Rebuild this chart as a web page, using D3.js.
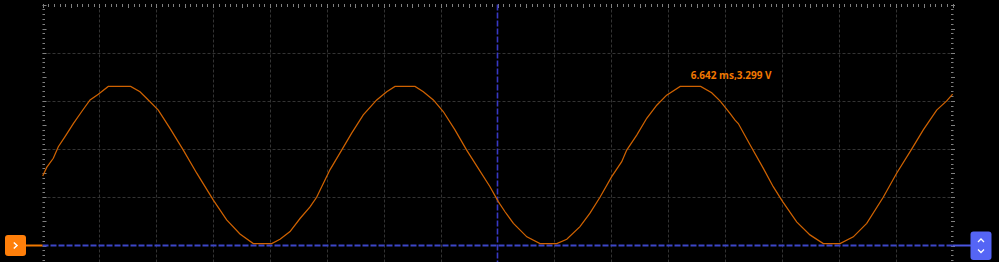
<!DOCTYPE html>
<html>
<head>
<meta charset="utf-8">
<script src="https://cdn.jsdelivr.net/npm/d3@7"></script>
<style>
    html, body { margin: 0; padding: 0; background: #000; overflow: hidden; }
    svg { display: block; }
</style>
</head>
<body>
<div id="scope"></div>
<script>
const times = [1.002, 1.037, 1.095, 1.139, 1.198, 1.271, 1.345, 1.418, 1.491, 1.578, 1.775, 1.857, 1.930, 2.018, 2.121, 2.238, 2.356, 2.502, 2.619, 2.736, 2.853, 3.015, 3.088, 3.176, 3.264, 3.352, 3.410, 3.527, 3.630, 3.718, 3.820, 3.938, 4.026, 4.099, 4.275, 4.348, 4.436, 4.523, 4.626, 4.729, 4.831, 4.934, 5.007, 5.066, 5.140, 5.258, 5.374, 5.521, 5.609, 5.725, 5.813, 5.901, 6.004, 6.092, 6.136, 6.224, 6.312, 6.400, 6.487, 6.606, 6.786, 6.883, 6.956, 7.044, 7.088, 7.117, 7.220, 7.337, 7.424, 7.507, 7.630, 7.747, 7.864, 8.011, 8.128, 8.246, 8.391, 8.509, 8.641, 8.743, 8.861, 8.949, 9.001];
const volts = [1.44, 1.62, 1.81, 2.05, 2.26, 2.53, 2.78, 3.02, 3.14, 3.299, 3.299, 3.19, 3.02, 2.81, 2.43, 1.98, 1.50, 0.94, 0.53, 0.24, 0.04, 0.04, 0.13, 0.29, 0.56, 0.80, 1.00, 1.57, 1.98, 2.33, 2.71, 3.02, 3.19, 3.299, 3.299, 3.19, 3.02, 2.78, 2.40, 1.98, 1.60, 1.22, 0.91, 0.70, 0.46, 0.18, 0.04, 0.04, 0.13, 0.39, 0.67, 1.00, 1.43, 1.74, 1.98, 2.29, 2.64, 2.91, 3.12, 3.299, 3.299, 3.17, 3.00, 2.74, 2.60, 2.53, 2.09, 1.60, 1.22, 0.91, 0.49, 0.22, 0.04, 0.04, 0.18, 0.46, 1.00, 1.50, 2.00, 2.40, 2.81, 3.00, 3.14];

// screen setup
const timeRange = [1, 9];        // ms, 0.5 ms/div, 16 divs
const voltRange = [0, 5];        // V, 1 V/div
const timePerDiv = 0.5;
const cursorTime = 5;            // vertical cursor (screen centre)
const marker = { t: 6.642, v: 3.299 };

const width = 999, height = 262;
const plotLeft = 42.5, plotRight = 952.5, plotTop = 4.5, zeroY = 245.5;

const svg = d3.select('#scope')
    .append('svg')
    .attr('width', width)
    .attr('height', height);

svg.append('rect')
    .attr('width', width)
    .attr('height', height)
    .attr('fill', '#000');

const x = d3.scaleLinear().domain(timeRange).range([plotLeft, plotRight]);
const y = d3.scaleLinear().domain(voltRange).range([zeroY, plotTop]);

// grid
const grid = svg.append('g').attr('class', 'grid');
const xMajor = d3.range(timeRange[0] + timePerDiv, timeRange[1] - 0.001, timePerDiv);
grid.selectAll('.vgrid')
    .data(xMajor.filter(t => Math.abs(t - cursorTime) > 1e-6))
    .join('line')
    .attr('x1', d => Math.round(x(d)) + 0.5)
    .attr('x2', d => Math.round(x(d)) + 0.5)
    .attr('y1', plotTop)
    .attr('y2', height)
    .attr('stroke', '#333')
    .attr('stroke-dasharray', '3,2');

grid.selectAll('.hgrid')
    .data([1, 2, 3, 4])
    .join('line')
    .attr('x1', plotLeft)
    .attr('x2', plotRight)
    .attr('y1', d => Math.round(y(d)) + 0.5)
    .attr('y2', d => Math.round(y(d)) + 0.5)
    .attr('stroke', '#333')
    .attr('stroke-dasharray', '3,2');

// edge ticks
const ticks = svg.append('g').attr('class', 'ticks');
const xMinor = d3.range(0, 161).map(i => timeRange[0] + i * timePerDiv / 10);
ticks.selectAll('.tt')
    .data(xMinor)
    .join('line')
    .attr('x1', d => Math.round(x(d)) + 0.5)
    .attr('x2', d => Math.round(x(d)) + 0.5)
    .attr('y1', plotTop - 0.5)
    .attr('y2', (d, i) => plotTop + (i % 5 === 0 ? 3.5 : 2.5))
    .attr('stroke', '#808080');

const yMinor = d3.range(-6, 51).map(i => i / 10);
[plotLeft, plotRight].forEach((ex, side) => {
    ticks.selectAll('.yt' + side)
        .data(yMinor)
        .join('line')
        .attr('class', 'yt' + side)
        .attr('x1', ex - (side ? 1.5 : 0))
        .attr('x2', d => ex + (Math.abs(Math.round(d * 10)) % 5 === 0 ? 4 : 2.5) - (side ? 1.5 : 0))
        .attr('y1', d => Math.round(y(d)) + 0.5)
        .attr('y2', d => Math.round(y(d)) + 0.5)
        .attr('stroke', '#808080');
});

// cursors
svg.append('line')
    .attr('x1', x(cursorTime))
    .attr('x2', x(cursorTime))
    .attr('y1', plotTop)
    .attr('y2', height)
    .attr('stroke', '#3838c4')
    .attr('stroke-width', 1.6)
    .attr('stroke-dasharray', '6,2');

svg.append('line')
    .attr('x1', plotLeft)
    .attr('x2', plotRight)
    .attr('y1', y(0))
    .attr('y2', y(0))
    .attr('stroke', '#3c46c8')
    .attr('stroke-width', 2)
    .attr('stroke-dasharray', '6,2');

svg.append('line')
    .attr('x1', plotRight)
    .attr('x2', 971)
    .attr('y1', y(0))
    .attr('y2', y(0))
    .attr('stroke', '#4a55e0')
    .attr('stroke-width', 2);

svg.append('line')
    .attr('x1', 25)
    .attr('x2', plotLeft)
    .attr('y1', y(0))
    .attr('y2', y(0))
    .attr('stroke', '#f07800')
    .attr('stroke-width', 2);

// trace
const trace = times.map((t, i) => ({ t, v: volts[i] }));
svg.append('path')
    .datum(trace)
    .attr('fill', 'none')
    .attr('stroke', '#cf6200')
    .attr('stroke-width', 1.25)
    .attr('d', d3.line().x(d => x(d.t)).y(d => y(d.v)));

svg.append('text')
    .attr('x', x(marker.t) + 6.5)
    .attr('y', y(marker.v) - 7.5)
    .style('font-family', '"Open Sans", sans-serif')
    .style('font-size', '10px')
    .style('font-weight', 'bold')
    .style('fill', '#f07800')
    .text(`${marker.t} ms,${marker.v} V`);

// channel offset handle (left)
const lh = svg.append('g').attr('transform', `translate(5,${y(0) - 10.5})`);
lh.append('rect')
    .attr('width', 21).attr('height', 21).attr('rx', 3)
    .attr('fill', '#ff7f0a');
lh.append('path')
    .attr('d', 'M8.8,7.5 L12,10.5 L8.8,13.5')
    .attr('fill', 'none').attr('stroke', '#fff').attr('stroke-width', 1.5);

// trigger handle (right)
const rh = svg.append('g').attr('transform', `translate(970.5,${y(0) - 14})`);
rh.append('rect')
    .attr('width', 21).attr('height', 28.5).attr('rx', 3)
    .attr('fill', '#5565f5');
rh.append('path')
    .attr('d', 'M7.5,10.5 L10.5,7.5 L13.5,10.5 M7.5,18 L10.5,21 L13.5,18')
    .attr('fill', 'none').attr('stroke', '#fff').attr('stroke-width', 1.3);
</script>
</body>
</html>
